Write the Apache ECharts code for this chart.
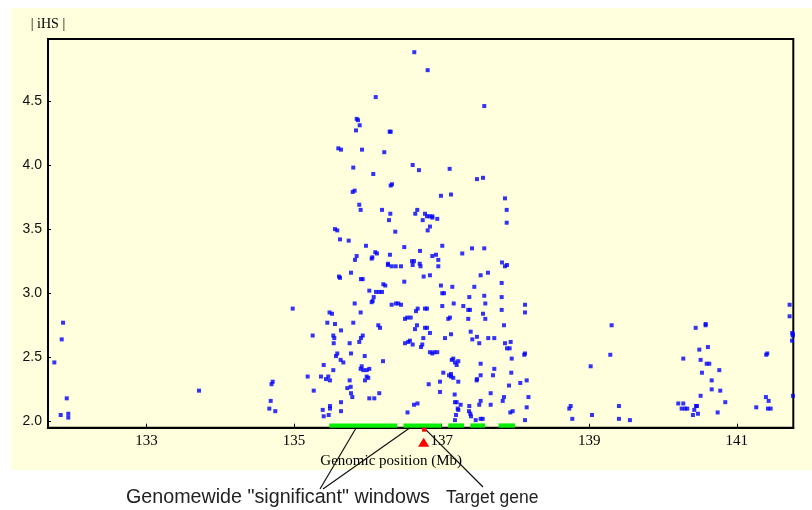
<!DOCTYPE html>
<html>
<head>
<meta charset="utf-8">
<script src="https://cdn.jsdelivr.net/npm/echarts@6/dist/echarts.min.js"></script>
<style>
html,body{margin:0;padding:0;background:#ffffff;}
#chart{width:812px;height:510px;}
</style>
</head>
<body>
<div id="chart"></div>
<script>
// ---- axis ranges and ticks ----
const X_MIN = 131.665, X_MAX = 141.765;
const Y_MIN = 1.951, Y_MAX = 4.983;
const xTicks = [133, 135, 137, 139, 141];
const yTicks = [2.0, 2.5, 3.0, 3.5, 4.0, 4.5];

// ---- genomewide "significant" windows (start, end in Mb) ----
const sigWindows = [[135.477, 136.398], [136.482, 137.000], [137.089, 137.302], [137.388, 137.587], [137.772, 137.993]];
// ---- target gene position (Mb) ----
const targetGene = [136.764];
// where the annotation leader lines touch the windows (Mb)
const windowPointers = [135.842, 136.570];

// ---- |iHS| scores: [position Mb, |iHS|] ----
const snpsWest = [
 [131.751,2.46],[131.851,2.64],[131.869,2.77],[131.919,2.18],[131.837,2.05],[131.940,2.06],[131.940,2.03],
 [133.711,2.24],[134.710,2.31],[134.694,2.29],[134.683,2.16],[134.664,2.10],[134.745,2.08],[134.981,2.88]
];
const snpsCoreLow = [
 [135.480,2.85],[135.514,2.84],[135.902,2.85],[135.450,2.77],[135.554,2.76],[135.802,2.77],[135.636,2.71],
 [135.252,2.67],[135.531,2.67],[135.545,2.65],[135.537,2.61],[135.753,2.61],[135.930,2.67],[135.906,2.65],
 [135.883,2.62],[136.141,2.75],[136.164,2.73],[136.503,2.80],[136.534,2.81],[136.580,2.81],[136.665,2.75],
 [136.638,2.72],[136.503,2.61],[136.547,2.62],[136.570,2.63],[136.607,2.60],[135.585,2.53],[135.568,2.51],
 [135.771,2.53],[135.957,2.51],[135.631,2.48],[135.667,2.46],[136.205,2.47],[135.401,2.44],[135.531,2.40],
 [135.916,2.43],[135.902,2.41],[135.938,2.40],[135.984,2.40],[136.019,2.41],[135.184,2.35],[135.364,2.35],
 [135.432,2.33],[135.463,2.35],[135.486,2.32],[135.984,2.35],[136.005,2.34],[135.961,2.32],[135.753,2.32],
 [135.767,2.27],[135.721,2.26],[135.266,2.24],[135.771,2.22],[135.789,2.19],[136.019,2.18],[136.087,2.18],
 [136.154,2.22],[135.636,2.15],[135.486,2.12],[135.486,2.10],[135.388,2.09],[135.469,2.05],[135.401,2.04],
 [135.636,2.08],[136.537,2.07],[136.625,2.13],[136.672,2.14]
];
const snpsCoreMid = [
 [135.883,3.69],[135.902,3.65],[136.191,3.65],[136.304,3.62],[136.286,3.57],[136.669,3.65],[136.642,3.62],
 [135.554,3.50],[135.585,3.49],[136.371,3.48],[135.622,3.42],[135.740,3.41],[135.974,3.37],[136.493,3.36],
 [136.100,3.32],[136.123,3.31],[135.848,3.29],[135.825,3.26],[136.060,3.28],[136.051,3.27],[136.299,3.30],
 [136.272,3.23],[136.272,3.22],[136.322,3.21],[136.377,3.21],[136.449,3.21],[136.598,3.25],[136.625,3.25],
 [136.607,3.22],[136.702,3.23],[136.713,3.21],[135.608,3.13],[135.622,3.12],[135.771,3.16],[135.906,3.11],
 [135.930,3.11],[136.209,3.07],[136.236,3.06],[136.493,3.09],[136.019,3.02],[136.110,3.01],[136.154,3.01],
 [136.191,3.01],[136.079,2.97],[136.065,2.94],[136.051,2.93],[135.821,2.92],[136.322,2.91],[136.381,2.92],
 [136.412,2.92],[136.449,2.91],[136.675,2.88],[136.652,2.86]
];
const snpsCoreEast = [
 [136.990,3.76],[137.126,3.77],[137.858,3.74],[137.881,3.65],[137.881,3.55],[136.774,3.62],[136.801,3.60],
 [136.837,3.60],[136.873,3.60],[136.873,3.59],[136.940,3.58],[136.743,3.57],[136.841,3.52],[136.810,3.49],
 [136.706,3.33],[137.008,3.37],[137.411,3.35],[137.577,3.35],[137.279,3.31],[136.873,3.29],[136.923,3.30],
 [136.954,3.26],[136.954,3.21],[137.817,3.24],[137.858,3.21],[137.885,3.22],[136.756,3.13],[136.841,3.14],
 [137.528,3.14],[137.627,3.16],[137.813,3.08],[136.990,3.06],[137.144,3.05],[137.442,3.05],[137.008,3.00],
 [137.031,3.00],[137.374,2.97],[137.577,2.98],[137.813,2.97],[137.163,2.92],[137.008,2.90],[137.293,2.90],
 [137.360,2.87],[137.383,2.87],[137.591,2.92],[137.813,2.87],[138.129,2.91],[138.129,2.85],[137.560,2.84],
 [136.774,2.88],[136.801,2.88],[137.591,2.80],[137.089,2.80],[137.112,2.81],[137.360,2.80],[136.774,2.73],
 [136.801,2.73],[136.841,2.69],[137.126,2.68],[137.393,2.70],[137.844,2.75],[136.751,2.65],[137.045,2.65],
 [137.415,2.64],[137.478,2.66],[137.631,2.65],[137.713,2.65],[137.509,2.61],[136.737,2.60],[136.720,2.58],
 [137.858,2.61],[137.935,2.62],[137.885,2.57],[137.921,2.57],[136.841,2.54],[136.873,2.53],[136.900,2.54],
 [136.940,2.54],[138.129,2.53],[138.119,2.52],[137.157,2.49],[137.136,2.48],[137.180,2.46],[137.225,2.47],
 [137.203,2.44],[137.949,2.49],[137.528,2.45],[137.713,2.41],[137.022,2.38],[137.126,2.37],[137.099,2.36],
 [137.126,2.35],[137.157,2.34],[137.225,2.31],[136.977,2.31],[137.478,2.33],[137.474,2.32],[137.528,2.36],
 [137.695,2.36],[137.943,2.38],[138.152,2.32],[138.065,2.30],[136.824,2.29],[137.912,2.28],[136.977,2.23],
 [137.176,2.21],[137.664,2.22],[137.844,2.19],[137.827,2.16],[138.176,2.19],[137.180,2.15],[137.203,2.15],
 [137.257,2.13],[137.528,2.16],[137.509,2.13],[137.374,2.12],[137.664,2.13],[138.152,2.11],[137.217,2.10],
 [137.225,2.09],[137.370,2.08],[137.388,2.06],[137.397,2.04],[137.930,2.07],[137.962,2.08],[137.194,2.05],
 [137.180,2.01],[137.461,2.01],[137.528,2.02],[137.556,2.02],[138.129,2.01]
];
const snpsCoreHigh = [
 [136.629,4.88],[136.810,4.74],[136.106,4.53],[137.577,4.46],[135.848,4.36],[135.866,4.35],[135.889,4.31],
 [135.839,4.27],[136.295,4.26],[136.309,4.26],[135.599,4.13],[135.636,4.12],[135.920,4.12],[136.222,4.10],
 [135.802,3.98],[136.073,3.93],[136.607,4.00],[136.692,3.96],[137.108,3.97],[137.478,3.89],[137.560,3.90],
 [136.309,3.84],[136.327,3.85],[135.821,3.80],[135.794,3.79]
];
const snpsEast = [
 [141.715,2.91],[141.715,2.82],[141.751,2.69],[141.758,2.68],[141.758,2.67],[141.747,2.63],[141.760,2.20],
 [139.303,2.75],[139.285,2.52],[139.019,2.43],[140.442,2.73],[140.577,2.76],[140.577,2.75],[140.608,2.58],
 [140.491,2.56],[140.509,2.48],[140.591,2.45],[140.626,2.45],[140.274,2.49],[140.762,2.40],[140.527,2.38],
 [140.659,2.32],[140.659,2.25],[140.775,2.24],[140.509,2.20],[141.398,2.52],[141.412,2.53],[140.843,2.15],
 [141.394,2.19],[141.431,2.16],[141.263,2.11],[141.421,2.10],[141.458,2.10],[140.206,2.14],[140.274,2.14],
 [140.252,2.10],[140.297,2.10],[140.328,2.10],[140.446,2.12],[140.460,2.12],[140.423,2.09],[140.405,2.05],
 [140.473,2.06],[140.740,2.07],[139.402,2.12],[138.729,2.10],[138.748,2.12],[139.037,2.05],[138.770,2.02],
 [139.402,2.02],[139.551,2.01]
];

const allSnps = [].concat(snpsWest, snpsCoreLow, snpsCoreMid, snpsCoreEast, snpsCoreHigh, snpsEast);

const chart = echarts.init(document.getElementById('chart'), null, {renderer: 'canvas'});
const BG = '#FFFFDD';
const SERIF = '"Liberation Serif","Times New Roman",serif';
const SANS = '"Liberation Sans",Arial,sans-serif';

const option = {
  animation: false,
  backgroundColor: '#ffffff',
  grid: {
    left: 48, right: 18.7, top: 39, bottom: 82.3,
    show: true, borderColor: '#000000', borderWidth: 2, backgroundColor: 'transparent',
    containLabel: false, outerBoundsMode: 'none'
  },
  xAxis: {
    type: 'value', min: X_MIN, max: X_MAX,
    axisLine: {show: true, onZero: false, lineStyle: {color: '#000000', width: 2}},
    axisTick: {show: true, inside: true, length: 4, customValues: xTicks, lineStyle: {color: '#000000', width: 1}},
    axisLabel: {customValues: xTicks, margin: 6, color: '#000000', fontFamily: SERIF, fontSize: 15},
    splitLine: {show: false},
    name: 'Genomic position (Mb)', nameLocation: 'middle', nameGap: 25,
    nameTextStyle: {fontFamily: SERIF, fontSize: 15, color: '#000000', padding: [0, 59, 0, 0]}
  },
  yAxis: {
    type: 'value', min: Y_MIN, max: Y_MAX,
    axisLine: {show: true, onZero: false, lineStyle: {color: '#000000', width: 2}},
    axisTick: {show: true, inside: true, length: 3, customValues: yTicks, lineStyle: {color: '#000000', width: 1}},
    axisLabel: {customValues: yTicks, margin: 6, color: '#111111', fontFamily: SANS, fontSize: 14,
      formatter: v => Number(v).toFixed(1)},
    splitLine: {show: false},
    name: '| iHS |', nameLocation: 'end', nameGap: 8,
    nameTextStyle: {fontFamily: SERIF, fontSize: 14, color: '#000000'}
  },
  series: [
    {
      type: 'scatter', data: allSnps, symbol: 'rect', symbolSize: 4, clip: false,
      itemStyle: {color: '#0000FF'}, z: 3, silent: true
    },
    {
      type: 'custom', data: sigWindows, silent: true, z: 4,
      renderItem: (params, api) => {
        const a = api.coord([api.value(0), Y_MIN]);
        const b = api.coord([api.value(1), Y_MIN]);
        return {type: 'rect', shape: {x: a[0], y: a[1] - 4.3, width: b[0] - a[0], height: 4.3},
                style: {fill: '#00EE00'}};
      }
    },
    {
      type: 'custom', data: targetGene.map(g => [g, Y_MIN]), silent: true, z: 5, clip: false,
      renderItem: (params, api) => {
        const c = api.coord([api.value(0), api.value(1)]);
        return {type: 'group', children: [
          {type: 'rect', shape: {x: c[0] - 2.2, y: c[1], width: 4.4, height: 4}, style: {fill: '#FF0000'}},
          {type: 'polygon', shape: {points: [[c[0] - 0.6, c[1] + 10], [c[0] - 6.2, c[1] + 19], [c[0] + 5, c[1] + 19]]},
           style: {fill: '#FF0000'}}
        ]};
      }
    }
  ]
};
chart.setOption(option);

// annotation graphics anchored to data positions
const p1 = chart.convertToPixel({gridIndex: 0}, [windowPointers[0], Y_MIN]);
const p2 = chart.convertToPixel({gridIndex: 0}, [windowPointers[1], Y_MIN]);
const pg = chart.convertToPixel({gridIndex: 0}, [targetGene[0], Y_MIN]);
const lineStyle = {stroke: '#111111', lineWidth: 1.2};
chart.setOption({
  graphic: {elements: [
    {type: 'rect', z: -100, silent: true, shape: {x: 11, y: 8, width: 801, height: 462}, style: {fill: BG}},
    {type: 'line', z: 10, silent: true, shape: {x1: 320, y1: 489, x2: p1[0], y2: p1[1]}, style: lineStyle},
    {type: 'line', z: 10, silent: true, shape: {x1: 323, y1: 489, x2: p2[0], y2: p2[1]}, style: lineStyle},
    {type: 'line', z: 10, silent: true, shape: {x1: 483, y1: 487, x2: pg[0] + 2, y2: pg[1] + 2.5}, style: lineStyle},
    {type: 'text', z: 10, silent: true, x: 126, y: 498,
     style: {text: 'Genomewide "significant" windows', font: '19.7px "Liberation Sans", Arial, sans-serif',
             fill: '#222222', textVerticalAlign: 'middle', verticalAlign: 'middle'}},
    {type: 'text', z: 10, silent: true, x: 446, y: 498,
     style: {text: 'Target gene', font: '17.5px "Liberation Sans", Arial, sans-serif',
             fill: '#222222', textVerticalAlign: 'middle', verticalAlign: 'middle'}}
  ]}
});
</script>
</body>
</html>
